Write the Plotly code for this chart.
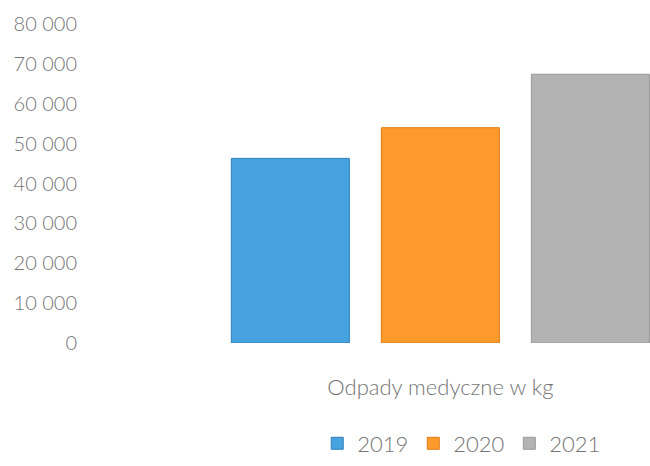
import plotly.graph_objects as go

category = ["Odpady medyczne w kg"]
years = ["2019", "2020", "2021"]
values = [46300, 54000, 67400]
colors = ["#46a3df", "#fd9a2c", "#b3b3b3"]
edge_colors = ["#2f7fb8", "#e07d15", "#999999"]
y_ticks = [0, 10000, 20000, 30000, 40000, 50000, 60000, 70000, 80000]
y_tick_text = ["0", "10 000", "20 000", "30 000", "40 000", "50 000", "60 000", "70 000", "80 000"]

fig = go.Figure()
for yr, v, c, ec in zip(years, values, colors, edge_colors):
    fig.add_trace(go.Bar(x=category, y=[v], name=yr,
                         marker=dict(color=c, line=dict(color=ec, width=1))))

font_family = "Lato, Calibri, 'Open Sans', sans-serif"
gray = "#757575"

fig.update_layout(
    width=650, height=466,
    margin=dict(l=88, r=0, t=24, b=123),
    paper_bgcolor="white", plot_bgcolor="white",
    barmode="group", bargap=0.3, bargroupgap=0.2133,
    font=dict(family=font_family, color=gray, size=20),
    showlegend=True,
    legend=dict(orientation="h", x=0.665, xanchor="center", y=-0.315, yanchor="middle",
                font=dict(size=22, color=gray, weight=300), itemwidth=30, traceorder="normal"),
    xaxis=dict(range=[-0.548, 0.326], showline=False, showgrid=False, zeroline=False,
               automargin=False,
               ticks="outside", ticklen=25, tickcolor="rgba(0,0,0,0)",
               tickfont=dict(size=22, color=gray, weight=300)),
    yaxis=dict(range=[0, 80000], tickvals=y_ticks, ticktext=y_tick_text,
               showgrid=False, zeroline=False, showline=False, automargin=False,
               ticks="outside", ticklen=6, tickcolor="rgba(0,0,0,0)",
               tickfont=dict(size=20, color=gray, weight=300)),
)

fig.write_html(
    "out.html",
    config={"displayModeBar": False},
    post_script="document.body.style.margin='0';document.body.style.overflow='hidden';",
)
